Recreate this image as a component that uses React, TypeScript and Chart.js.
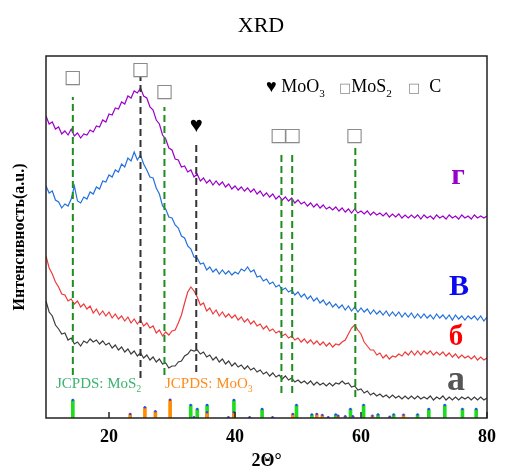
import { useEffect, useRef } from "react";
import { Chart, registerables } from "chart.js";

Chart.register(...registerables);

const SERIF = '"Liberation Serif", "Times New Roman", serif';

// 2θ sampling of the measured patterns (degrees)
const ANGLES = [10,10.5,11,11.5,12,12.5,13,13.5,14,14.5,15,15.5,16,16.5,17,17.5,18,18.5,19,19.5,20,20.5,21,21.5,22,22.5,23,23.5,24,24.5,25,25.5,26,26.5,27,27.5,28,28.5,29,29.5,30,30.5,31,31.5,32,32.5,33,33.5,34,34.5,35,35.5,36,36.5,37,37.5,38,38.5,39,39.5,40,40.5,41,41.5,42,42.5,43,43.5,44,44.5,45,45.5,46,46.5,47,47.5,48,48.5,49,49.5,50,50.5,51,51.5,52,52.5,53,53.5,54,54.5,55,55.5,56,56.5,57,57.5,58,58.5,59,59.5,60,60.5,61,61.5,62,62.5,63,63.5,64,64.5,65,65.5,66,66.5,67,67.5,68,68.5,69,69.5,70,70.5,71,71.5,72,72.5,73,73.5,74,74.5,75,75.5,76,76.5,77,77.5,78,78.5,79,79.5,80];

// intensities (a.u., stacked offsets included)
const SERIES_G = [
  302,294,296,289,291,284,287,283,289,282,
  285,280,284,283,288,286,292,291,298,296,
  304,303,310,309,316,314,322,320,327,325,
  330,322,320,311,308,298,294,283,279,270,
  268,259,258,251,252,246,248,241,244,237,
  240,235,238,233,237,233,236,231,234,229,
  232,228,231,227,230,226,229,224,227,222,
  225,221,224,219,222,218,221,217,220,215,
  218,214,216,212,215,211,214,210,213,209,
  211,208,211,207,210,206,209,205,209,205,
  207,204,207,203,206,203,205,202,205,201,
  204,201,204,200,203,200,203,200,203,199,
  203,200,202,199,203,200,202,199,203,200,
  202,199,203,200,202,199,203,200,202,200,
  202];
const SERIES_V = [
  232,225,227,218,216,210,214,212,219,232,
  217,215,221,219,226,224,231,229,237,236,
  243,241,248,246,254,251,260,257,266,258,
  263,254,248,241,240,230,224,212,209,201,
  200,193,190,182,180,172,169,161,160,154,
  155,148,151,146,149,144,148,144,147,143,
  146,144,149,147,151,146,148,141,142,137,
  139,134,136,131,133,128,130,126,128,123,
  126,121,124,119,122,117,120,115,118,113,
  116,111,114,110,113,108,112,107,111,106,
  110,106,109,104,108,104,107,103,107,102,
  106,102,106,101,105,101,105,100,104,100,
  104,100,103,99,104,100,103,99,103,98,
  103,99,102,98,102,99,102,98,102,97,
  101];
const SERIES_B = [
  162,150,144,136,131,124,123,117,119,114,
  117,111,114,109,112,105,109,103,107,102,
  106,100,104,99,102,97,101,95,99,94,
  98,92,95,90,92,85,88,82,86,83,
  87,88,95,103,115,126,131,127,121,113,
  115,107,110,104,108,102,106,101,104,100,
  103,98,101,96,99,94,97,92,94,89,
  92,87,89,85,87,82,84,80,82,78,
  80,76,79,75,78,74,77,73,76,72,
  75,71,74,73,76,78,84,90,93,88,
  84,76,72,68,68,63,65,60,63,59,
  62,61,64,62,66,63,67,63,67,63,
  67,64,67,63,66,63,66,62,65,61,
  64,60,63,60,62,59,62,58,61,58,
  60];
const SERIES_A = [
  117,106,102,93,89,84,85,78,80,74,
  76,72,77,75,79,76,78,74,77,73,
  75,70,73,68,71,66,69,64,67,62,
  65,60,63,58,61,56,59,54,55,50,
  52,52,56,57,62,64,68,67,68,64,
  66,61,63,58,61,56,59,54,57,52,
  55,51,53,49,52,48,50,46,48,44,
  46,42,45,41,43,39,42,38,40,36,
  38,35,37,34,37,33,36,33,35,32,
  35,32,35,34,37,34,35,31,32,28,
  29,25,27,23,25,22,24,21,23,20,
  23,20,22,19,22,19,22,19,22,19,
  21,19,22,18,21,19,22,18,21,18,
  21,18,21,19,21,18,21,18,21,18,
  20];

// JCPDS reference patterns
const MOS2_POS = [14.26,32.97,34.01,35.57,39.83,44.3,49.76,52.2,55.99,58.33,60.41,62.7,65.19,68.98,70.76,73.3,76.1,78.28];
const MOS2_INT = [18,13,9,13,18,9,13,3.5,3.5,9,13,3.5,3.5,3.5,9,13,9,9];
const MOO3_POS = [23.36,25.7,27.36,29.7,33.49,35.57,38.95,39.83,42.32,45.96,49.18,52.98,53.86,54.8,56.36,57.5,58.7,61.81,64.57,66.75];
const MOO3_INT = [4,10.7,6.7,18.3,0.8,5.7,0.8,5.7,0.8,0.8,4,4,3,0.8,2.3,1.7,1.7,2.3,1.3,3.3];

// indexed peak guide lines
const PEAK_POS = [14.26,25.0,28.8,33.85,47.37,49.08,59.1];
const PEAK_PHASE = ["g","k","g","k","g","g","g"];
const PEAK_TOP = [321,341,311,276,266,265,270];
const PEAK_BOTTOM = [43,40,43,46,25,25,21];

// symbols above peaks
const MARK_X = [14.26,25.0,28.8,33.85,46.95,49.13,58.96];
const MARK_Y = [340,348,326,292,282,282,282];
const MARK_T = ["□","□","□","♥","□","□","□"];

const X_TICKS = [20,40,60,80];

const SERIES_LABELS = ["г","В","б","а"];
const SERIES_COLORS = ["#9b00c9","#2470dc","#ee3a3a","#3c3c3c"];
const LABEL_COLORS = ["#9900cc","#0a0af0","#ff0000","#555555"];

const BOX_FONT = '"DejaVu Sans"';

function drawRich(ctx: CanvasRenderingContext2D, parts: {t: string; sub?: boolean; fam?: string; size?: number; color?: string}[], x: number, y: number, size: number, color: string) {
  let cx = x;
  ctx.textBaseline = "alphabetic";
  ctx.textAlign = "left";
  for (const p of parts) {
    const fs = p.size || (p.sub ? size * 0.62 : size);
    ctx.fillStyle = p.color || color;
    ctx.font = `${fs}px ${p.fam || SERIF}`;
    ctx.fillText(p.t, cx, y + (p.sub ? size * 0.25 : 0));
    cx += ctx.measureText(p.t).width;
  }
}

const overlay = {
  id: "overlay",
  afterDatasetsDraw(chart: any) {
    const { ctx, chartArea: a, scales } = chart;
    const xs = scales.x, ys = scales.y;
    ctx.save();
    // frame
    ctx.strokeStyle = "#222";
    ctx.lineWidth = 1.5;
    ctx.strokeRect(a.left, a.top, a.right - a.left, a.bottom - a.top);
    // inward ticks
    for (const v of X_TICKS) {
      const px = xs.getPixelForValue(v);
      ctx.beginPath();
      ctx.moveTo(px, a.bottom);
      ctx.lineTo(px, a.bottom - 6);
      ctx.stroke();
    }
    // peak symbols
    MARK_T.forEach((t, i) => {
      const px = xs.getPixelForValue(MARK_X[i]);
      const py = ys.getPixelForValue(MARK_Y[i]);
      ctx.textAlign = "center";
      ctx.textBaseline = "middle";
      if (t === "♥") {
        ctx.fillStyle = "#000";
        ctx.font = `22px ${SERIF}`;
      } else {
        ctx.fillStyle = "#8a8a8a";
        ctx.font = `19px ${BOX_FONT}`;
      }
      ctx.fillText(t, px, py);
    });
    // legend
    drawRich(ctx, [{ t: "♥ " }, { t: "MoO" }, { t: "3", sub: true }], 266, 92, 18, "#000");
    drawRich(ctx, [{ t: "□", fam: BOX_FONT, size: 13, color: "#8a8a8a" }, { t: "MoS" }, { t: "2", sub: true }], 339, 92, 18, "#000");
    drawRich(ctx, [{ t: "□", fam: BOX_FONT, size: 13, color: "#8a8a8a" }, { t: "  C" }], 408, 92, 18, "#000");
    // JCPDS captions
    drawRich(ctx, [{ t: "JCPDS: MoS" }, { t: "2", sub: true }], 56, 388, 15, "#3cb371");
    drawRich(ctx, [{ t: "JCPDS: MoO" }, { t: "3", sub: true }], 165, 388, 15, "#ff8c1a");
    // series labels
    const lab = [
      { x: 458, y: 184, s: 30 },
      { x: 459, y: 295, s: 30 },
      { x: 456, y: 345, s: 29 },
      { x: 456, y: 390, s: 36 },
    ];
    SERIES_LABELS.forEach((t, i) => {
      ctx.fillStyle = LABEL_COLORS[i];
      ctx.font = `bold ${lab[i].s}px ${SERIF}`;
      ctx.textAlign = "center";
      ctx.textBaseline = "alphabetic";
      ctx.fillText(t, lab[i].x, lab[i].y);
    });
    // title
    ctx.fillStyle = "#000";
    ctx.font = `22px ${SERIF}`;
    ctx.textAlign = "center";
    ctx.textBaseline = "alphabetic";
    ctx.fillText("XRD", 261, 32);
    ctx.restore();
  },
};

export default function App() {
  const ref = useRef<HTMLCanvasElement | null>(null);
  useEffect(() => {
    if (!ref.current) return;
    const curves = [SERIES_G, SERIES_V, SERIES_B, SERIES_A].map((s, i) => ({
      type: "line" as const,
      label: SERIES_LABELS[i],
      data: ANGLES.map((x, j) => ({ x, y: s[j] })),
      borderColor: SERIES_COLORS[i],
      borderWidth: 1.2,
      pointRadius: 0,
      tension: 0,
      order: 2,
    }));
    const guides = PEAK_POS.map((p, i) => ({
      type: "line" as const,
      label: "guide" + i,
      data: [{ x: p, y: PEAK_BOTTOM[i] }, { x: p, y: PEAK_TOP[i] }],
      borderColor: PEAK_PHASE[i] === "g" ? "#1e8c1e" : "#333333",
      borderWidth: 2,
      borderDash: [7, 4],
      pointRadius: 0,
      order: 1,
    }));
    const mos2Bars = {
      type: "bar" as const,
      label: "JCPDS MoS2",
      data: MOS2_POS.map((x, i) => ({ x, y: MOS2_INT[i] })),
      backgroundColor: "#1fdc1f",
      barThickness: 3,
      grouped: false,
      order: 5,
    };
    const moo3Bars = {
      type: "bar" as const,
      label: "JCPDS MoO3",
      data: MOO3_POS.map((x, i) => ({ x, y: MOO3_INT[i] })),
      backgroundColor: "#ff8c00",
      barThickness: 3,
      grouped: false,
      order: 4,
    };
    const dots = {
      type: "line" as const,
      label: "tops",
      data: [
        ...MOS2_POS.map((x, i) => ({ x, y: MOS2_INT[i] })),
        ...MOO3_POS.map((x, i) => ({ x, y: MOO3_INT[i] })),
      ],
      showLine: false,
      pointRadius: 1.2,
      pointBorderWidth: 0,
      pointBackgroundColor: "#3344ff",
      order: 3,
    };
    const chart = new Chart(ref.current, {
      type: "line",
      data: { datasets: [...curves, ...guides, mos2Bars, moo3Bars, dots] as any },
      options: {
        animation: false,
        responsive: false,
        maintainAspectRatio: false,
        layout: { padding: { top: 56, right: 10, bottom: 0, left: 12 } },
        plugins: { legend: { display: false }, tooltip: { enabled: false }, title: { display: false } },
        scales: {
          x: {
            type: "linear",
            min: 10,
            max: 80,
            offset: false,
            grid: { display: false, drawTicks: false },
            border: { display: false },
            afterBuildTicks: (s: any) => {
              s.ticks = X_TICKS.map((v) => ({ value: v }));
            },
            ticks: {
              font: { family: SERIF, size: 18, weight: "bold" },
              color: "#000",
              padding: 9,
              maxRotation: 0,
              autoSkip: false,
            },
            title: {
              display: true,
              text: "2Θ°",
              font: { family: SERIF, size: 18, weight: "bold", lineHeight: 1 },
              color: "#000",
              padding: 0,
            },
            afterFit: (s: any) => {
              s.height = 52;
            },
          },
          y: {
            type: "linear",
            min: 0,
            max: 362,
            grid: { display: false, drawTicks: false },
            border: { display: false },
            ticks: { display: false },
            title: {
              display: true,
              text: "Интенсивность(a.u.)",
              font: { family: SERIF, size: 16, weight: "bold", lineHeight: 1 },
              color: "#000",
              padding: 0,
            },
            afterFit: (s: any) => {
              s.width = 34;
            },
          },
        },
      } as any,
      plugins: [overlay],
    });
    return () => chart.destroy();
  }, []);
  return (
    <div style={{ position: "absolute", left: 0, top: 0, width: 505, height: 470, background: "#fff" }}>
      <canvas ref={ref} width={505} height={470} style={{ width: 505, height: 470 }} />
    </div>
  );
}
